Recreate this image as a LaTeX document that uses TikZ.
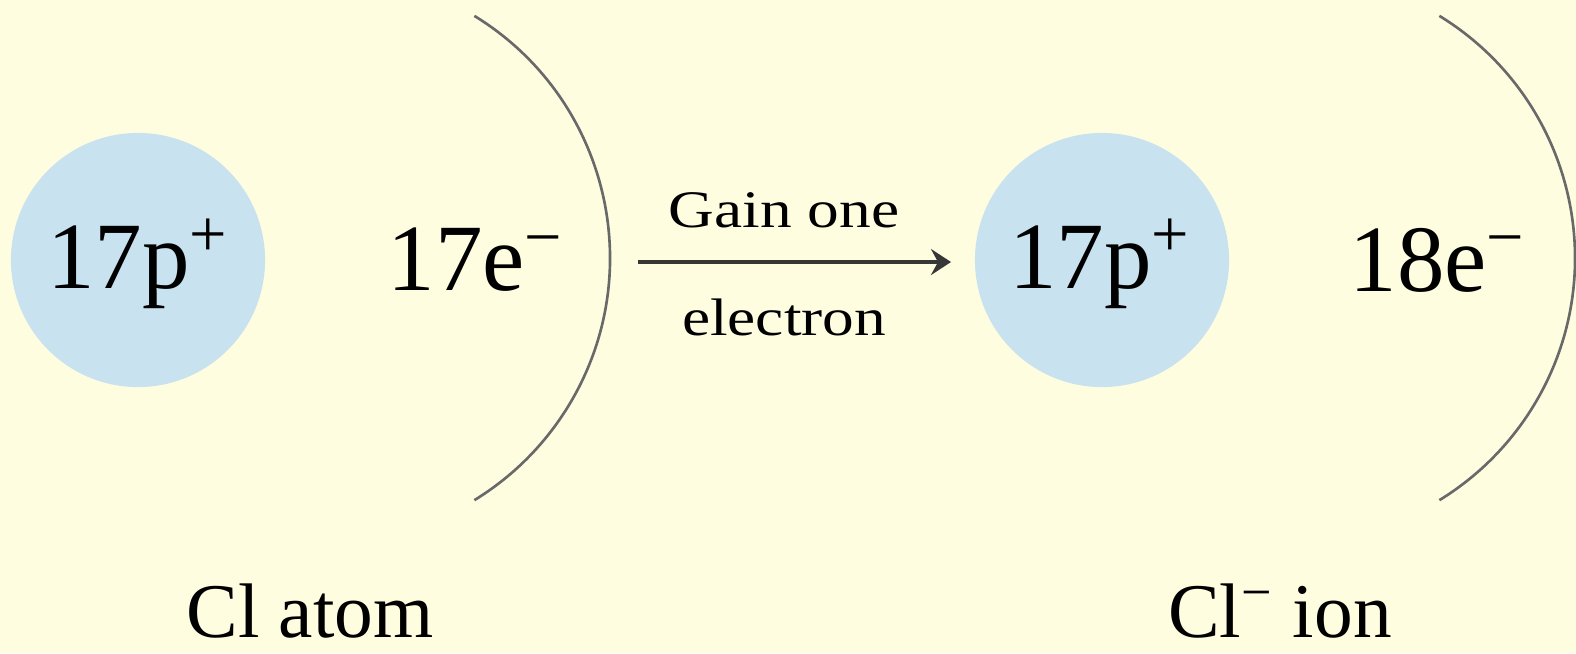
\documentclass[tikz,border=0pt]{standalone}
\usepackage{fontspec}
\setmainfont{Liberation Serif}
\newfontfamily\wideserif[FakeStretch=1.2]{Liberation Serif}
\usetikzlibrary{arrows.meta}
\definecolor{bg}{RGB}{255,253,224}
\definecolor{nuc}{RGB}{200,226,240}
\definecolor{shellc}{RGB}{105,105,105}
\definecolor{arrc}{RGB}{55,55,55}
\begin{document}
\begin{tikzpicture}[x=0.01cm,y=-0.01cm,
  nucleus/.style={circle,fill=nuc,minimum size=2.54cm,inner sep=0pt},
  bigtext/.style={font=\fontsize{27}{32}\selectfont,inner sep=0pt},
  labeltext/.style={font=\fontsize{22}{26}\selectfont,inner sep=0pt,anchor=base},
  smalltext/.style={font=\wideserif\fontsize{15}{18}\selectfont,inner sep=0pt,anchor=base},
  shellline/.style={draw=shellc,line width=0.75pt},
  react/.style={draw=arrc,line width=0.9pt,-{Stealth[length=0.2cm,width=0.26cm,inset=0.07cm]}}]
\fill[bg] (0,0) rectangle (1576,653);
\useasboundingbox (0,0) rectangle (1576,653);
% Cl atom
\node[nucleus] (n1) at (138,260) {};
\node[bigtext] (p1) at (138,264) {17p\textsuperscript{+}};
\node[bigtext] (e1) at (476,260) {17e\textsuperscript{−}};
\draw[shellline] (326,258) ++(-58.5:284) arc[start angle=-58.5,end angle=58.5,radius=284];
\node[labeltext] (l1) at (310,637) {Cl atom};
% arrow
\coordinate (a1) at (638,262);
\coordinate (a2) at (951,262);
\draw[react] (a1) -- (a2);
\node[smalltext] (g1) at (784,227) {Gain one};
\node[smalltext] (g2) at (784,335) {electron};
% Cl ion
\node[nucleus] (n2) at (1102,260) {};
\node[bigtext] (p2) at (1100,264) {17p\textsuperscript{+}};
\node[bigtext] (e2) at (1438,260) {18e\textsuperscript{−}};
\draw[shellline] (1291,258) ++(-58.5:284) arc[start angle=-58.5,end angle=58.5,radius=284];
\node[labeltext] (l2) at (1280,637) {Cl\textsuperscript{−} ion};
\end{tikzpicture}
\end{document}
